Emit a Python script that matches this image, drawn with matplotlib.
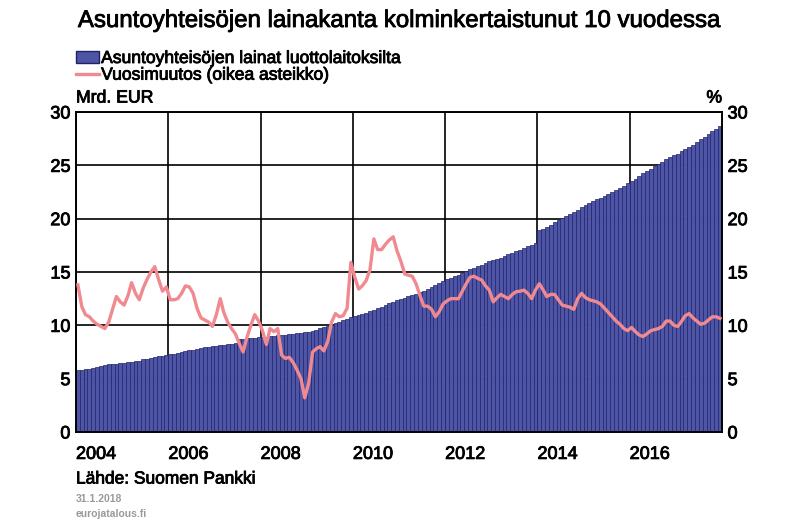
import pandas as pd
import matplotlib
matplotlib.use('Agg')
import matplotlib.pyplot as plt
import matplotlib.patheffects as pe
from matplotlib.patches import Patch
from matplotlib.lines import Line2D

plt.rcParams['font.family'] = ['Liberation Sans', 'DejaVu Sans']

# Kuukausittaiset arvot 1/2004 - 12/2017
rajat = pd.date_range('2004-01-01', periods=169, freq='MS')
kuukaudet = rajat[:-1]
leveydet = (rajat[1:] - rajat[:-1]).days

# Asuntoyhteisöjen lainat luottolaitoksilta, mrd. EUR
lainat = [
    5.8, 5.85, 5.9, 5.95, 6.0, 6.1, 6.15, 6.25, 6.35, 6.4, 6.4, 6.45,
    6.5, 6.55, 6.6, 6.65, 6.7, 6.8, 6.85, 6.95, 7.0, 7.1, 7.15, 7.25,
    7.3, 7.35, 7.4, 7.5, 7.55, 7.65, 7.7, 7.8, 7.85, 7.95, 8.0, 8.05,
    8.1, 8.15, 8.2, 8.25, 8.25, 8.3, 8.7, 8.75, 8.8, 8.85, 8.85, 8.9,
    8.95, 8.95, 9.0, 9.0, 9.05, 9.1, 9.1, 9.15, 9.2, 9.25, 9.3, 9.35,
    9.4, 9.5, 9.6, 9.75, 9.85, 9.95, 10.05, 10.2, 10.35, 10.5, 10.6, 10.75,
    10.85, 10.95, 11.05, 11.2, 11.3, 11.45, 11.6, 11.75, 11.9, 12.05, 12.2, 12.35,
    12.5, 12.6, 12.75, 12.85, 12.95, 13.1, 13.25, 13.4, 13.6, 13.8, 14.0, 14.15,
    14.3, 14.45, 14.6, 14.75, 14.9, 15.05, 15.25, 15.4, 15.55, 15.7, 15.85, 16.0,
    16.1, 16.2, 16.35, 16.5, 16.65, 16.8, 16.95, 17.1, 17.25, 17.4, 17.55, 17.75,
    18.9, 19.05, 19.25, 19.45, 19.65, 19.85, 20.05, 20.25, 20.45, 20.65, 20.85, 21.05,
    21.3, 21.5, 21.65, 21.8, 21.95, 22.1, 22.3, 22.5, 22.7, 22.9, 23.1, 23.3,
    23.5, 23.75, 24.0, 24.25, 24.45, 24.7, 24.95, 25.15, 25.35, 25.55, 25.75, 25.95,
    26.1, 26.3, 26.5, 26.75, 26.95, 27.2, 27.45, 27.7, 27.95, 28.2, 28.45, 28.7,
]

# Vuosimuutos, %
vuosimuutos = [
    13.8, 11.75, 11.0, 10.8, 10.4, 10.1, 9.9, 9.7, 10.3, 11.5, 12.7, 12.2,
    11.9, 12.8, 14.0, 13.0, 12.4, 13.5, 14.3, 15.0, 15.5, 14.3, 13.2, 13.6,
    12.4, 12.4, 12.5, 13.0, 13.7, 13.6, 13.0, 11.6, 10.7, 10.5, 10.3, 9.9,
    11.0, 12.5, 11.2, 10.3, 9.7, 9.2, 8.3, 7.5, 8.9, 10.0, 11.0, 10.4,
    9.5, 8.2, 9.7, 9.4, 9.7, 7.2, 6.9, 7.0, 6.5, 5.8, 5.0, 3.2,
    4.6, 7.5, 7.8, 8.0, 7.6, 8.5, 10.3, 11.1, 10.8, 10.9, 11.6, 15.9,
    14.5, 13.4, 13.7, 14.2, 15.2, 18.1, 17.1, 17.1, 17.6, 18.0, 18.3, 17.0,
    16.0, 14.8, 14.7, 14.6, 13.9, 12.8, 11.8, 11.8, 11.5, 10.8, 11.3, 12.0,
    12.3, 12.5, 12.5, 12.5, 13.2, 13.9, 14.5, 14.6, 14.4, 14.25, 13.7, 13.3,
    12.2, 12.6, 12.9, 12.7, 12.5, 12.9, 13.15, 13.2, 13.3, 13.0, 12.5, 13.3,
    13.9, 13.3, 12.7, 12.9, 12.9, 12.4, 11.9, 11.8, 11.7, 11.5, 12.5, 13.0,
    12.6, 12.4, 12.3, 12.2, 12.0, 11.6, 11.2, 10.8, 10.4, 10.1, 9.7, 9.5,
    9.8, 9.4, 9.1, 8.95, 9.2, 9.5, 9.6, 9.7, 9.9, 10.4, 10.4, 10.0,
    9.9, 10.4, 10.9, 11.1, 10.7, 10.4, 10.1, 10.2, 10.5, 10.8, 10.8, 10.65,
]

y_ticks = [0, 5, 10, 15, 20, 25, 30]
vuodet = ['2004', '2006', '2008', '2010', '2012', '2014', '2016']

sininen = '#4e54a6'
reuna = '#1f2366'
punainen = '#f08a90'
paksu = [pe.withStroke(linewidth=0.6, foreground='black')]

fig = plt.figure(figsize=(8.01, 5.23), dpi=100)
ax = fig.add_axes([76 / 801, 91 / 523, 646 / 801, 320 / 523])
ax2 = ax.twinx()

# Pylväät
ax.bar(kuukaudet, lainat, width=leveydet, align='edge', color=sininen,
       edgecolor=reuna, linewidth=0.5, zorder=2)

# Viiva oikealla asteikolla
keskikohdat = kuukaudet + pd.Timedelta(days=15)
ax2.plot(keskikohdat, vuosimuutos, color=punainen, linewidth=2.4, zorder=3)

for a in (ax, ax2):
    a.set_ylim(0, 30)
    a.set_yticks(y_ticks)
    a.tick_params(length=0, labelsize=13, pad=4)
    for s in a.spines.values():
        s.set_linewidth(1.2)
        s.set_color('black')
    for lbl in a.get_yticklabels():
        lbl.set_path_effects(paksu)

ax.set_xlim(pd.Timestamp('2004-01-01'), pd.Timestamp('2018-01-01'))
ax.set_xticks([pd.Timestamp(v + '-01-01') for v in vuodet])
ax.set_xticklabels(vuodet, ha='left')
ax.tick_params(axis='x', pad=10)
for lbl in ax.get_xticklabels():
    lbl.set_path_effects(paksu)

ax.grid(True, color='black', linewidth=1.2, zorder=1)
ax.set_axisbelow(True)

fig.text(0.497, 1 - 21 / 523, 'Asuntoyhteisöjen lainakanta kolminkertaistunut 10 vuodessa',
         ha='center', va='center', fontsize=17.3, path_effects=paksu)

kahvat = [Patch(facecolor=sininen, edgecolor=reuna),
          Line2D([0], [0], color=punainen, linewidth=2.4)]
leg = fig.legend(kahvat, ['Asuntoyhteisöjen lainat luottolaitoksilta',
                          'Vuosimuutos (oikea asteikko)'],
                 loc='upper left', bbox_to_anchor=(74 / 801, 1 - 49 / 523),
                 frameon=False, fontsize=12.6, handlelength=1.35, handletextpad=0.1,
                 labelspacing=0.08, borderaxespad=0, borderpad=0.1)
for t in leg.get_texts():
    t.set_path_effects(paksu)

fig.text(76 / 801, 1 - 98 / 523, 'Mrd. EUR', ha='left', va='center', fontsize=12.7,
         path_effects=paksu)
fig.text(722 / 801, 1 - 98 / 523, '%', ha='right', va='center', fontsize=12.7,
         path_effects=paksu)
fig.text(76 / 801, 1 - 479 / 523, 'Lähde: Suomen Pankki', ha='left', va='center',
         fontsize=12.5, path_effects=paksu)
fig.text(76 / 801, 1 - 499 / 523, '31.1.2018', ha='left', va='center', fontsize=7.5,
         color='#9a9a9a', fontweight='bold')
fig.text(76 / 801, 1 - 514 / 523, 'eurojatalous.fi', ha='left', va='center', fontsize=7.5,
         color='#9a9a9a', fontweight='bold')

plt.savefig('out.png', dpi=100)
plt.close()
